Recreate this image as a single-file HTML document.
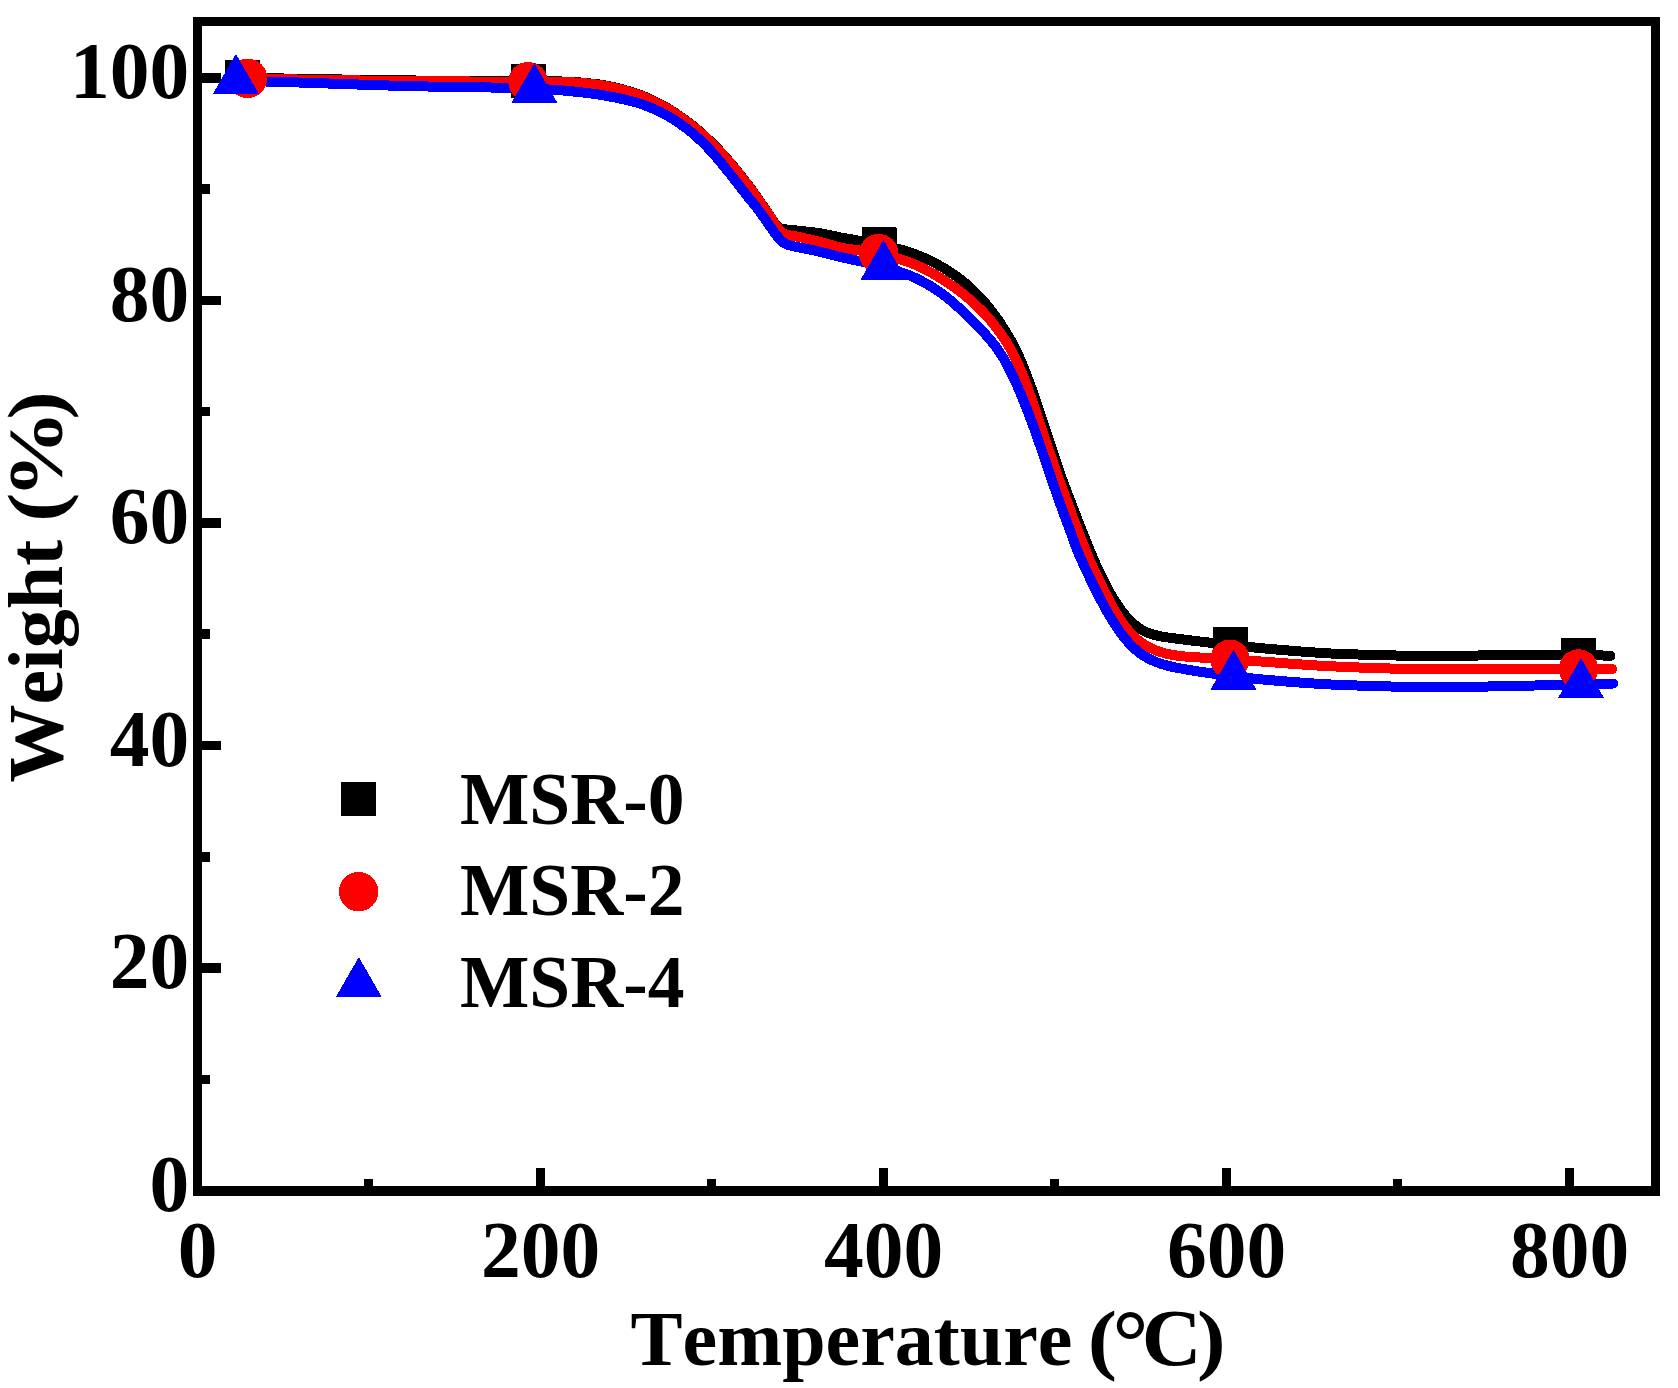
<!DOCTYPE html><html><head><meta charset="utf-8"><title>TGA curves</title><style>
html,body{margin:0;padding:0;background:#fff}svg{display:block}text{font-family:"Liberation Serif","DejaVu Serif",serif;font-weight:bold;fill:#000;font-kerning:none}.t{font-size:78px}.k{font-size:79.5px}.l{font-size:73.5px}
</style></head><body>
<svg width="1678" height="1388" viewBox="0 0 1678 1388" shape-rendering="crispEdges">
<rect width="1678" height="1388" fill="#fff"/>
<path d="M193 17H1660V1196H193Z M202 26V1186H1651V26Z" fill="#000" fill-rule="evenodd"/>
<g fill="#000"><rect x="192.5" y="1168" width="9.4" height="19"/><rect x="364.0" y="1179" width="9.4" height="8"/><rect x="535.5" y="1168" width="9.4" height="19"/><rect x="707.0" y="1179" width="9.4" height="8"/><rect x="878.5" y="1168" width="9.4" height="19"/><rect x="1050.0" y="1179" width="9.4" height="8"/><rect x="1221.5" y="1168" width="9.4" height="19"/><rect x="1393.0" y="1179" width="9.4" height="8"/><rect x="1564.5" y="1168" width="9.4" height="19"/><rect x="201" y="1185.9" width="20" height="9.6"/><rect x="201" y="1074.6" width="9" height="9.6"/><rect x="201" y="963.3" width="20" height="9.6"/><rect x="201" y="852.0" width="9" height="9.6"/><rect x="201" y="740.7" width="20" height="9.6"/><rect x="201" y="629.4" width="9" height="9.6"/><rect x="201" y="518.1" width="20" height="9.6"/><rect x="201" y="406.8" width="9" height="9.6"/><rect x="201" y="295.5" width="20" height="9.6"/><rect x="201" y="184.2" width="9" height="9.6"/><rect x="201" y="72.9" width="20" height="9.6"/></g>
<text class="k" x="197.7" y="1276.6" text-anchor="middle">0</text>
<text class="k" x="540.7" y="1276.6" text-anchor="middle">200</text>
<text class="k" x="883.7" y="1276.6" text-anchor="middle">400</text>
<text class="k" x="1226.7" y="1276.6" text-anchor="middle">600</text>
<text class="k" x="1569.7" y="1276.6" text-anchor="middle">800</text>
<text class="k" x="189.2" y="1210.9" text-anchor="end">0</text>
<text class="k" x="189.2" y="988.3" text-anchor="end">20</text>
<text class="k" x="189.2" y="765.7" text-anchor="end">40</text>
<text class="k" x="189.2" y="543.1" text-anchor="end">60</text>
<text class="k" x="189.2" y="320.5" text-anchor="end">80</text>
<text class="k" x="189.2" y="97.9" text-anchor="end">100</text>
<text class="t" x="630.6" y="1365">Temperature <tspan x="1087.8" textLength="29.25" lengthAdjust="spacingAndGlyphs">(</tspan><tspan x="1112.5" y="1371.4" style="font-size:89.7px">°</tspan><tspan x="1141.7" y="1365.3" style="font-size:80px" textLength="59.8" lengthAdjust="spacingAndGlyphs">C</tspan><tspan x="1197" y="1365" textLength="28.6" lengthAdjust="spacingAndGlyphs">)</tspan></text>
<text class="t" transform="translate(61.8,782.5) rotate(-90)">Weight <tspan x="260.7" textLength="29" lengthAdjust="spacingAndGlyphs">(</tspan><tspan x="284" textLength="88.2" lengthAdjust="spacingAndGlyphs">%</tspan><tspan x="363.1" textLength="28.2" lengthAdjust="spacingAndGlyphs">)</tspan></text>
<path d="M242.3 77.6C256.1 77.9 269.9 78.2 283.7 78.5C319.6 79.1 355.5 79.9 391.4 80.3C427.6 80.8 463.8 81.2 500.0 81.2C509.5 81.2 519.1 81.2 528.6 81.2C539.7 81.2 550.9 81.3 562.0 81.5C574.0 81.6 586.0 82.9 598.0 84.3C610.0 85.7 622.0 89.0 634.0 92.7C642.7 95.4 651.3 99.5 660.0 103.9C669.7 108.9 679.3 115.4 689.0 122.7C696.7 128.5 704.4 135.5 712.1 143.0C718.4 149.1 724.7 156.1 731.0 163.4C736.9 170.3 742.9 177.9 748.8 185.8C753.3 191.8 757.7 198.2 762.2 204.6C764.6 208.0 766.9 211.5 769.3 215.0C771.0 217.5 772.6 220.3 774.3 222.5C775.5 224.1 776.7 226.0 777.9 226.8C779.6 227.9 781.3 228.7 783.0 229.0C787.2 229.8 791.5 229.9 795.7 230.4C803.7 231.3 811.6 232.0 819.6 233.2C827.6 234.4 835.5 236.6 843.5 238.0C847.5 238.7 851.5 239.4 855.5 240.1C863.3 241.4 871.2 242.6 879.0 244.3C889.3 246.5 899.5 249.0 909.8 252.3C917.8 254.9 925.7 258.3 933.7 262.3C941.7 266.3 949.7 271.3 957.7 277.2C965.7 283.1 973.6 290.5 981.6 299.0C987.0 304.7 992.3 311.8 997.7 319.3C1000.6 323.3 1003.4 327.9 1006.3 332.6C1008.5 336.1 1010.6 339.9 1012.8 344.0C1014.7 347.6 1016.7 351.5 1018.6 355.7C1020.3 359.3 1021.9 363.3 1023.6 367.4C1025.2 371.4 1026.9 375.7 1028.5 380.1C1029.9 383.9 1031.4 387.9 1032.8 392.0C1033.7 394.6 1034.7 397.3 1035.6 400.1C1038.2 407.8 1040.9 415.8 1043.5 423.7C1046.2 431.9 1048.9 440.3 1051.6 448.4C1054.2 456.2 1056.8 464.0 1059.4 471.5C1060.5 474.5 1061.5 477.5 1062.6 480.5C1065.6 488.7 1068.7 496.5 1071.7 504.5C1074.8 512.6 1077.9 520.7 1081.0 528.6C1084.1 536.5 1087.3 544.4 1090.4 551.9C1091.9 555.4 1093.3 558.8 1094.8 562.1C1096.3 565.6 1097.9 568.9 1099.4 572.2C1101.3 576.1 1103.1 579.9 1105.0 583.5C1107.3 587.9 1109.5 592.1 1111.8 595.9C1114.5 600.4 1117.1 604.7 1119.8 608.3C1123.0 612.8 1126.3 616.8 1129.5 620.1C1131.7 622.3 1133.8 624.2 1136.0 625.9C1138.0 627.4 1140.0 628.7 1142.0 629.9C1143.9 630.9 1145.9 632.0 1147.8 632.7C1151.8 634.2 1155.8 635.4 1159.8 636.2C1163.8 637.0 1167.8 637.5 1171.8 638.0C1175.8 638.6 1179.7 639.0 1183.7 639.5C1189.1 640.2 1194.6 640.9 1200.0 641.5C1210.2 642.7 1220.5 643.9 1230.7 645.0C1241.7 646.2 1252.8 647.4 1263.8 648.4C1287.7 650.5 1311.5 652.7 1335.4 653.7C1359.2 654.6 1383.1 655.6 1406.9 655.6C1430.7 655.6 1454.6 655.6 1478.4 655.5C1502.2 655.5 1526.1 655.1 1549.9 655.1C1559.4 655.1 1569.0 655.1 1578.5 655.2C1589.2 655.2 1599.8 655.4 1610.5 655.7" fill="none" stroke="#000" stroke-width="10" stroke-linecap="round" stroke-linejoin="round"/>
<path d="M247.6 78.5C259.6 78.8 271.7 79.1 283.7 79.3C319.6 80.0 355.5 80.7 391.4 81.0C427.6 81.4 463.8 81.7 500.0 81.7C509.3 81.7 518.7 81.7 528.0 81.7C539.3 81.7 550.7 81.8 562.0 81.9C574.0 82.1 586.0 83.3 598.0 84.8C610.0 86.2 622.0 89.5 634.0 93.2C642.7 95.9 651.3 100.0 660.0 104.4C669.7 109.4 679.3 115.9 689.0 123.2C696.7 128.9 704.4 136.0 712.1 143.5C718.4 149.6 724.7 156.6 731.0 164.0C736.9 170.9 742.9 178.5 748.8 186.4C753.3 192.3 757.7 198.7 762.2 205.1C765.2 209.4 768.3 213.7 771.3 218.2C773.1 220.9 775.0 224.0 776.8 226.5C778.2 228.3 779.5 230.4 780.9 231.5C782.6 232.9 784.3 234.0 786.0 234.5C789.2 235.5 792.5 235.7 795.7 236.4C803.7 238.0 811.6 239.8 819.6 241.7C827.6 243.7 835.5 246.7 843.5 248.2C847.5 248.9 851.5 249.4 855.5 249.9C863.3 251.1 871.0 251.9 878.8 253.4C889.1 255.4 899.5 258.7 909.8 262.5C917.8 265.4 925.7 269.5 933.7 274.0C941.7 278.4 949.7 283.7 957.7 289.7C965.7 295.7 973.6 302.7 981.6 310.6C984.5 313.4 987.3 316.7 990.2 320.1C993.5 324.1 996.9 328.3 1000.2 333.0C1002.7 336.4 1005.1 340.0 1007.6 344.1C1009.7 347.6 1011.9 351.5 1014.0 355.7C1015.9 359.4 1017.7 363.6 1019.6 367.9C1021.2 371.5 1022.7 375.4 1024.3 379.4C1025.8 383.4 1027.4 387.5 1028.9 391.7C1030.0 394.7 1031.1 397.8 1032.2 400.9C1034.8 408.3 1037.4 416.1 1040.0 423.8C1042.8 432.0 1045.5 440.5 1048.3 448.7C1050.9 456.5 1053.5 464.2 1056.1 471.7C1057.2 474.7 1058.2 477.8 1059.3 480.7C1062.2 488.6 1065.0 496.1 1067.9 503.9C1071.0 512.1 1074.0 520.6 1077.1 528.7C1080.1 536.6 1083.1 544.6 1086.1 551.9C1087.6 555.6 1089.1 559.0 1090.6 562.4C1092.0 565.5 1093.3 568.5 1094.7 571.5C1096.7 575.7 1098.6 579.8 1100.6 583.8C1102.6 587.9 1104.6 591.9 1106.6 595.8C1108.9 600.2 1111.2 604.6 1113.5 608.6C1116.0 612.9 1118.5 617.2 1121.0 620.8C1123.8 624.9 1126.7 628.5 1129.5 631.7C1131.2 633.6 1132.8 635.3 1134.5 636.9C1136.3 638.6 1138.2 640.2 1140.0 641.5C1142.6 643.5 1145.2 645.3 1147.8 646.6C1151.8 648.8 1155.8 650.6 1159.8 651.8C1163.8 653.1 1167.8 654.1 1171.8 654.8C1175.8 655.5 1179.7 656.1 1183.7 656.4C1189.1 656.9 1194.6 657.1 1200.0 657.5C1210.0 658.1 1220.0 658.6 1230.0 659.3C1241.3 660.0 1252.5 660.9 1263.8 661.7C1287.7 663.4 1311.5 665.5 1335.4 666.5C1359.2 667.6 1383.1 668.6 1406.9 668.8C1430.7 669.1 1454.6 669.2 1478.4 669.2C1502.2 669.2 1526.1 668.9 1549.9 668.9C1559.4 668.9 1569.0 668.9 1578.5 668.9C1589.7 668.9 1600.9 669.0 1612.1 669.1" fill="none" stroke="#f00" stroke-width="10" stroke-linecap="round" stroke-linejoin="round"/>
<path d="M236.0 80.7C251.9 81.1 267.8 81.5 283.7 82.0C302.5 82.6 321.2 83.3 340.0 83.9C357.1 84.5 374.3 85.1 391.4 85.6C410.9 86.1 430.5 86.6 450.0 87.0C466.7 87.2 483.3 87.3 500.0 87.7C511.5 87.9 522.9 88.2 534.4 88.7C543.6 89.1 552.8 89.7 562.0 90.4C574.0 91.4 586.0 92.7 598.0 94.4C610.0 96.2 622.0 98.6 634.0 101.8C642.7 104.2 651.3 107.7 660.0 111.8C669.7 116.4 679.3 122.9 689.0 130.3C696.1 135.7 703.2 142.8 710.3 150.3C716.2 156.5 722.1 164.1 728.0 171.4C733.9 178.6 739.8 186.5 745.7 194.0C750.3 199.9 755.0 205.3 759.6 211.5C763.5 216.7 767.3 222.7 771.2 228.0C773.3 230.9 775.4 234.0 777.5 236.5C779.2 238.5 781.0 240.8 782.7 242.0C784.5 243.2 786.2 244.2 788.0 244.8C790.6 245.7 793.1 246.1 795.7 246.7C803.7 248.5 811.6 249.9 819.6 251.7C827.6 253.5 835.5 255.9 843.5 257.7C847.5 258.6 851.5 259.4 855.5 260.3C864.8 262.3 874.2 264.2 883.5 266.7C892.3 269.1 901.0 272.1 909.8 275.5C913.2 276.9 916.6 278.5 920.0 280.2C924.0 282.3 928.0 284.5 932.0 287.0C936.0 289.4 939.9 292.2 943.9 295.2C947.9 298.2 951.9 301.6 955.9 305.1C959.9 308.6 963.8 312.4 967.8 316.3C971.4 319.7 974.9 323.3 978.5 327.0C980.8 329.4 983.2 331.8 985.5 334.4C988.5 337.7 991.5 341.1 994.5 345.1C997.2 348.6 999.9 352.6 1002.6 356.9C1004.7 360.3 1006.8 364.2 1008.9 368.2C1010.8 371.8 1012.7 375.8 1014.6 379.8C1016.3 383.4 1017.9 387.2 1019.6 391.1C1021.2 394.8 1022.7 398.6 1024.3 402.5C1027.1 409.5 1029.9 416.9 1032.7 424.5C1035.4 431.9 1038.1 439.6 1040.8 447.4C1043.5 455.2 1046.2 463.3 1048.9 471.3C1050.0 474.6 1051.1 477.9 1052.2 481.1C1055.0 489.1 1057.7 497.1 1060.5 504.7C1063.4 512.8 1066.3 520.3 1069.2 528.2C1072.0 535.7 1074.7 544.1 1077.5 550.9C1079.2 555.1 1080.9 558.8 1082.6 562.5C1084.2 566.1 1085.9 569.6 1087.5 573.0C1089.3 576.8 1091.0 580.5 1092.8 584.1C1094.7 588.1 1096.7 592.0 1098.6 595.7C1100.7 599.8 1102.7 603.7 1104.8 607.5C1107.2 611.7 1109.5 615.9 1111.9 619.7C1114.5 624.0 1117.2 628.0 1119.8 631.7C1121.4 633.9 1122.9 636.0 1124.5 637.9C1126.6 640.5 1128.7 642.9 1130.8 645.1C1132.7 647.0 1134.6 648.8 1136.5 650.4C1138.2 651.9 1140.0 653.2 1141.7 654.4C1143.7 655.8 1145.8 657.1 1147.8 658.2C1149.5 659.1 1151.3 660.0 1153.0 660.7C1155.3 661.7 1157.5 662.6 1159.8 663.4C1163.8 664.7 1167.8 665.8 1171.8 666.7C1175.8 667.6 1179.7 668.3 1183.7 669.0C1189.4 670.1 1195.0 671.0 1200.7 671.8C1211.6 673.5 1222.6 675.0 1233.5 676.3C1243.6 677.6 1253.7 678.7 1263.8 679.6C1287.7 681.7 1311.5 683.7 1335.4 684.7C1359.2 685.6 1383.1 686.7 1406.9 686.7C1430.7 686.7 1454.6 686.6 1478.4 686.6C1502.2 686.5 1526.1 685.7 1549.9 685.1C1560.3 684.9 1570.6 684.6 1581.0 684.3C1591.7 684.0 1602.4 683.7 1613.1 683.5" fill="none" stroke="#00f" stroke-width="10" stroke-linecap="round" stroke-linejoin="round"/>
<rect x="224.8" y="59.9" width="35" height="34.4" rx="1" fill="#000"/>
<rect x="511.1" y="63.8" width="35" height="34.4" rx="1" fill="#000"/>
<rect x="861.5" y="227.2" width="35" height="34.4" rx="1" fill="#000"/>
<rect x="1213.2" y="627.0" width="35" height="34.4" rx="1" fill="#000"/>
<rect x="1561.0" y="638.0" width="35" height="34.4" rx="1" fill="#000"/>
<circle cx="247.6" cy="78.3" r="19.7" fill="#f00"/>
<circle cx="528.0" cy="81.7" r="19.7" fill="#f00"/>
<circle cx="878.8" cy="253.6" r="19.7" fill="#f00"/>
<circle cx="1230.0" cy="659.3" r="19.7" fill="#f00"/>
<circle cx="1578.5" cy="669.0" r="19.7" fill="#f00"/>
<polygon points="235.9,53.9 212.9,93.8 258.9,93.8" fill="#00f"/>
<polygon points="534.4,63.1 511.4,103.0 557.4,103.0" fill="#00f"/>
<polygon points="883.5,240.0 860.5,279.9 906.5,279.9" fill="#00f"/>
<polygon points="1233.5,649.8 1210.5,689.7 1256.5,689.7" fill="#00f"/>
<polygon points="1581.0,658.0 1558.0,697.9 1604.0,697.9" fill="#00f"/>
<rect x="340.8" y="781.8" width="35" height="34.4" rx="1" fill="#000"/>
<circle cx="358.6" cy="891.7" r="19.7" fill="#f00"/>
<polygon points="358.8,957.1 335.8,997.0 381.8,997.0" fill="#00f"/>
<text class="l" x="460" y="823.9">MSR-0</text>
<text class="l" x="460" y="915.2">MSR-2</text>
<text class="l" x="460" y="1006.6">MSR-4</text>
</svg></body></html>
